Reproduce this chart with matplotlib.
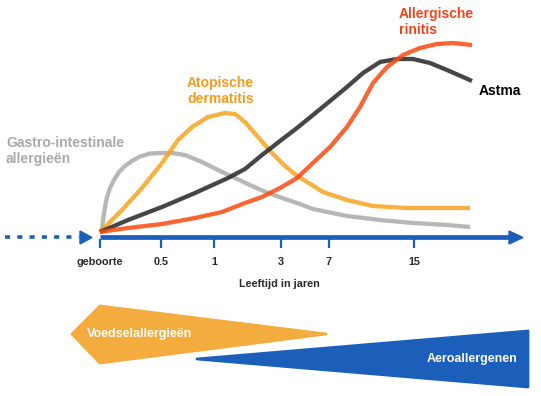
import numpy as np
import matplotlib.pyplot as plt
from matplotlib.patches import Polygon

plt.rcParams['font.family'] = ['Liberation Sans', 'DejaVu Sans']

# x = position along the time axis (0 = birth), y = relative prevalence
gastro_x = [0, 2, 3, 5, 7, 10, 14, 19, 25, 32, 40, 50, 62, 72, 85, 102, 118, 135, 152, 168,
            185, 197, 213, 247, 280, 313, 347, 370]
gastro_y = [0, 3, 12, 25, 35, 44, 52, 60, 66, 71, 75.5, 78.5, 79, 79, 77, 70, 62, 54, 46, 39,
            33, 29, 23, 16, 12, 9, 7, 5]

derm_x = [0, 22, 42, 62, 78, 92, 108, 125, 135, 145, 158, 172, 184, 196, 207, 223, 247, 273, 307, 337, 370]
derm_y = [0, 22, 44, 69, 92, 105, 115, 119, 118, 110, 95, 79, 67, 57, 50, 40, 32, 26, 24, 24, 24]

astma_x = [0, 28, 62, 95, 128, 145, 162, 180, 197, 213, 230, 247, 263, 280, 297, 313, 330, 347, 372]
astma_y = [0, 12, 25, 39, 54, 63, 77, 91, 104, 117, 131, 145, 159, 170, 173, 173, 169, 162, 151]

rinitis_x = [0, 28, 62, 95, 122, 145, 162, 180, 197, 213, 230, 247, 260, 273, 287, 303, 320, 337, 353, 372]
rinitis_y = [0, 4, 8, 14, 20, 29, 35, 44, 54, 69, 85, 105, 125, 149, 165, 177, 184, 188, 189, 187]

tick_pos = [0, 61, 114, 181, 229, 314]
tick_labels = ['geboorte', '0.5', '1', '3', '7', '15']

blue = '#1b5fba'
fig = plt.figure(figsize=(5.41, 3.96), dpi=100)
ax = fig.add_axes([0, 0, 1, 1])
ax.set_xlim(-100, 441)
ax.set_ylim(-164, 232)
ax.axis('off')

lw = 3.1
ax.plot(gastro_x, gastro_y, color='#ababab', lw=lw, alpha=0.85, solid_capstyle='butt', zorder=3)
ax.plot(derm_x, derm_y, color='#f7a21f', lw=lw, alpha=0.85, solid_capstyle='butt', zorder=3)
ax.plot(astma_x, astma_y, color='#262626', lw=lw, alpha=0.85, solid_capstyle='butt', zorder=3)
ax.plot(rinitis_x, rinitis_y, color='#fb4a10', lw=lw, alpha=0.85, solid_capstyle='butt', zorder=3)

ax.text(-94, 81, 'Gastro-intestinale\nallergieën', color='#a9a9a9', fontsize=10, fontweight='bold',
        va='center', ha='left', linespacing=1.2)
ax.text(87, 141, 'Atopische\ndermatitis', color='#f39b1c', fontsize=10, fontweight='bold',
        va='center', ha='left', linespacing=1.2)
ax.text(299, 210, 'Allergische\nrinitis', color='#f4441a', fontsize=10, fontweight='bold',
        va='center', ha='left', linespacing=1.2)
ax.text(379, 141, 'Astma', color='black', fontsize=10, fontweight='bold', va='center', ha='left')

# time axis
ax.plot([0, 411], [-5.5, -5.5], color=blue, lw=3.4, solid_capstyle='butt', zorder=2)
ax.add_patch(Polygon([[409, 1], [423, -5.5], [409, -12]], closed=True, color=blue, zorder=2))
ax.plot([-95, -21], [-5.5, -5.5], color=blue, lw=2.6, linestyle=(0, (1.4, 2.0)),
        solid_capstyle='butt', dash_capstyle='butt', zorder=2)
ax.add_patch(Polygon([[-20, 1], [-8, -5.5], [-20, -12]], closed=True, color=blue, zorder=2))
for p, lab in zip(tick_pos, tick_labels):
    ax.plot([p, p], [-7, -16], color=blue, lw=1.6, solid_capstyle='butt')
    ax.text(p, -30, lab, ha='center', va='center', fontsize=7.8, fontweight='bold', color='#2a2a2a')
ax.text(179, -52, 'Leeftijd in jaren', ha='center', va='center', fontsize=7.8,
        fontweight='bold', color='#2a2a2a')

# allergen wedges
ax.add_patch(Polygon([[-28, -102], [0, -74], [226, -102], [0, -131]], closed=True,
                     facecolor='#f5ac3f', edgecolor='#f5ac3f', lw=2, joinstyle='round'))
ax.add_patch(Polygon([[97, -127], [428, -99], [428, -155]], closed=True,
                     facecolor=blue, edgecolor=blue, lw=2, joinstyle='round'))
ax.text(-13, -102, 'Voedselallergieën', color='white', fontsize=9, fontweight='bold',
        va='center', ha='left')
ax.text(417, -127, 'Aeroallergenen', color='white', fontsize=9, fontweight='bold',
        va='center', ha='right')

fig.savefig('out.png', dpi=100)
